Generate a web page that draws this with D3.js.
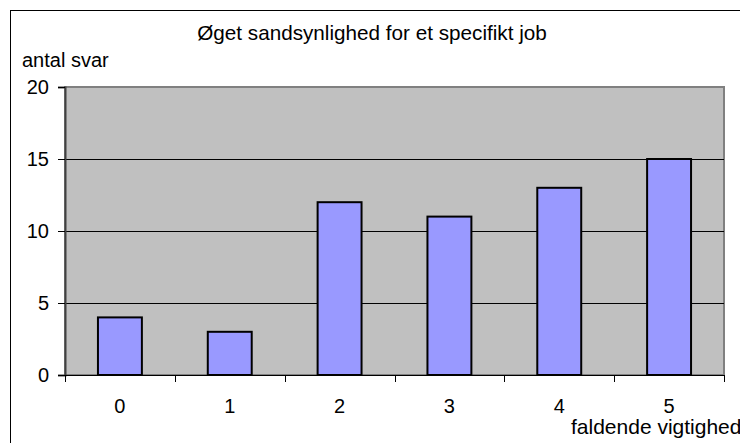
<!DOCTYPE html>
<html>
<head>
<meta charset="utf-8">
<script src="https://cdn.jsdelivr.net/npm/d3@7"></script>
<style>
body { margin: 0; background: #fff; }
text { font-family: "Liberation Sans", Arial, sans-serif; fill: #000; font-size: 20px; }
</style>
</head>
<body>
<script>
// data
var categories = ["0", "1", "2", "3", "4", "5"];
var values = [4, 3, 12, 11, 13, 15];
var yTicks = [0, 5, 10, 15, 20];

var width = 740, height = 443;
var plot = {left: 65, right: 724, top: 87, bottom: 375};

var svg = d3.select("body").append("svg")
  .attr("width", width)
  .attr("height", height);

// ramme om diagrammet
svg.append("rect")
  .attr("x", 10.5).attr("y", 10.5)
  .attr("width", 740).attr("height", 440)
  .attr("fill", "#fff").attr("stroke", "#000").attr("stroke-width", 1);

var x = d3.scaleBand().domain(categories).range([plot.left, plot.right]).paddingInner(0.6).paddingOuter(0.3);
var xTicks = d3.scaleLinear().domain([0, categories.length]).range([plot.left, plot.right]);
var y = d3.scaleLinear().domain([0, 20]).range([plot.bottom, plot.top]);

// plotområde
svg.append("rect")
  .attr("x", plot.left).attr("y", plot.top)
  .attr("width", plot.right - plot.left).attr("height", plot.bottom - plot.top)
  .attr("fill", "#c0c0c0").attr("stroke", "#808080").attr("stroke-width", 2);

// gitterlinjer
svg.append("g").selectAll("line")
  .data(yTicks.filter(function(d){ return d > 0 && d < 20; }))
  .enter().append("line")
  .attr("x1", plot.left).attr("x2", plot.right)
  .attr("y1", function(d){ return Math.round(y(d)) + 0.5; })
  .attr("y2", function(d){ return Math.round(y(d)) + 0.5; })
  .attr("stroke", "#000");

// søjler
svg.append("g").selectAll("rect")
  .data(values)
  .enter().append("rect")
  .attr("x", function(d, i){ return x(categories[i]); })
  .attr("y", function(d){ return y(d); })
  .attr("width", x.bandwidth())
  .attr("height", function(d){ return y(0) - y(d); })
  .attr("fill", "#9999ff").attr("stroke", "#000").attr("stroke-width", 2);

// y-akse
var yAxis = svg.append("g")
  .attr("transform", "translate(" + plot.left + ",0)")
  .call(d3.axisLeft(y).tickValues(yTicks).tickSize(7).tickFormat(""));
yAxis.select(".domain").attr("stroke", "#404040").attr("stroke-width", 2);

svg.append("g").selectAll("text")
  .data(yTicks)
  .enter().append("text")
  .attr("x", 49)
  .attr("y", function(d){ return y(d) + 7; })
  .attr("text-anchor", "end")
  .text(function(d){ return d; });

// x-akse
svg.append("line")
  .attr("x1", plot.left).attr("x2", plot.right)
  .attr("y1", plot.bottom + 0.5).attr("y2", plot.bottom + 0.5)
  .attr("stroke", "#000");
svg.append("g").selectAll("line")
  .data(d3.range(categories.length + 1))
  .enter().append("line")
  .attr("x1", function(d){ return Math.round(xTicks(d)) + 0.5; })
  .attr("x2", function(d){ return Math.round(xTicks(d)) + 0.5; })
  .attr("y1", plot.bottom).attr("y2", plot.bottom + 7)
  .attr("stroke", "#000");
svg.append("g").selectAll("text")
  .data(categories)
  .enter().append("text")
  .attr("x", function(d){ return x(d) + x.bandwidth() / 2; })
  .attr("y", 413)
  .attr("text-anchor", "middle")
  .text(function(d){ return d; });

// titler
svg.append("text")
  .attr("x", 372).attr("y", 40)
  .attr("text-anchor", "middle")
  .style("font-size", "20.7px")
  .text("Øget sandsynlighed for et specifikt job");
svg.append("text")
  .attr("x", 22).attr("y", 67)
  .text("antal svar");
svg.append("text")
  .attr("x", 571).attr("y", 434)
  .style("font-size", "21px")
  .text("faldende vigtighed");
</script>
</body>
</html>
